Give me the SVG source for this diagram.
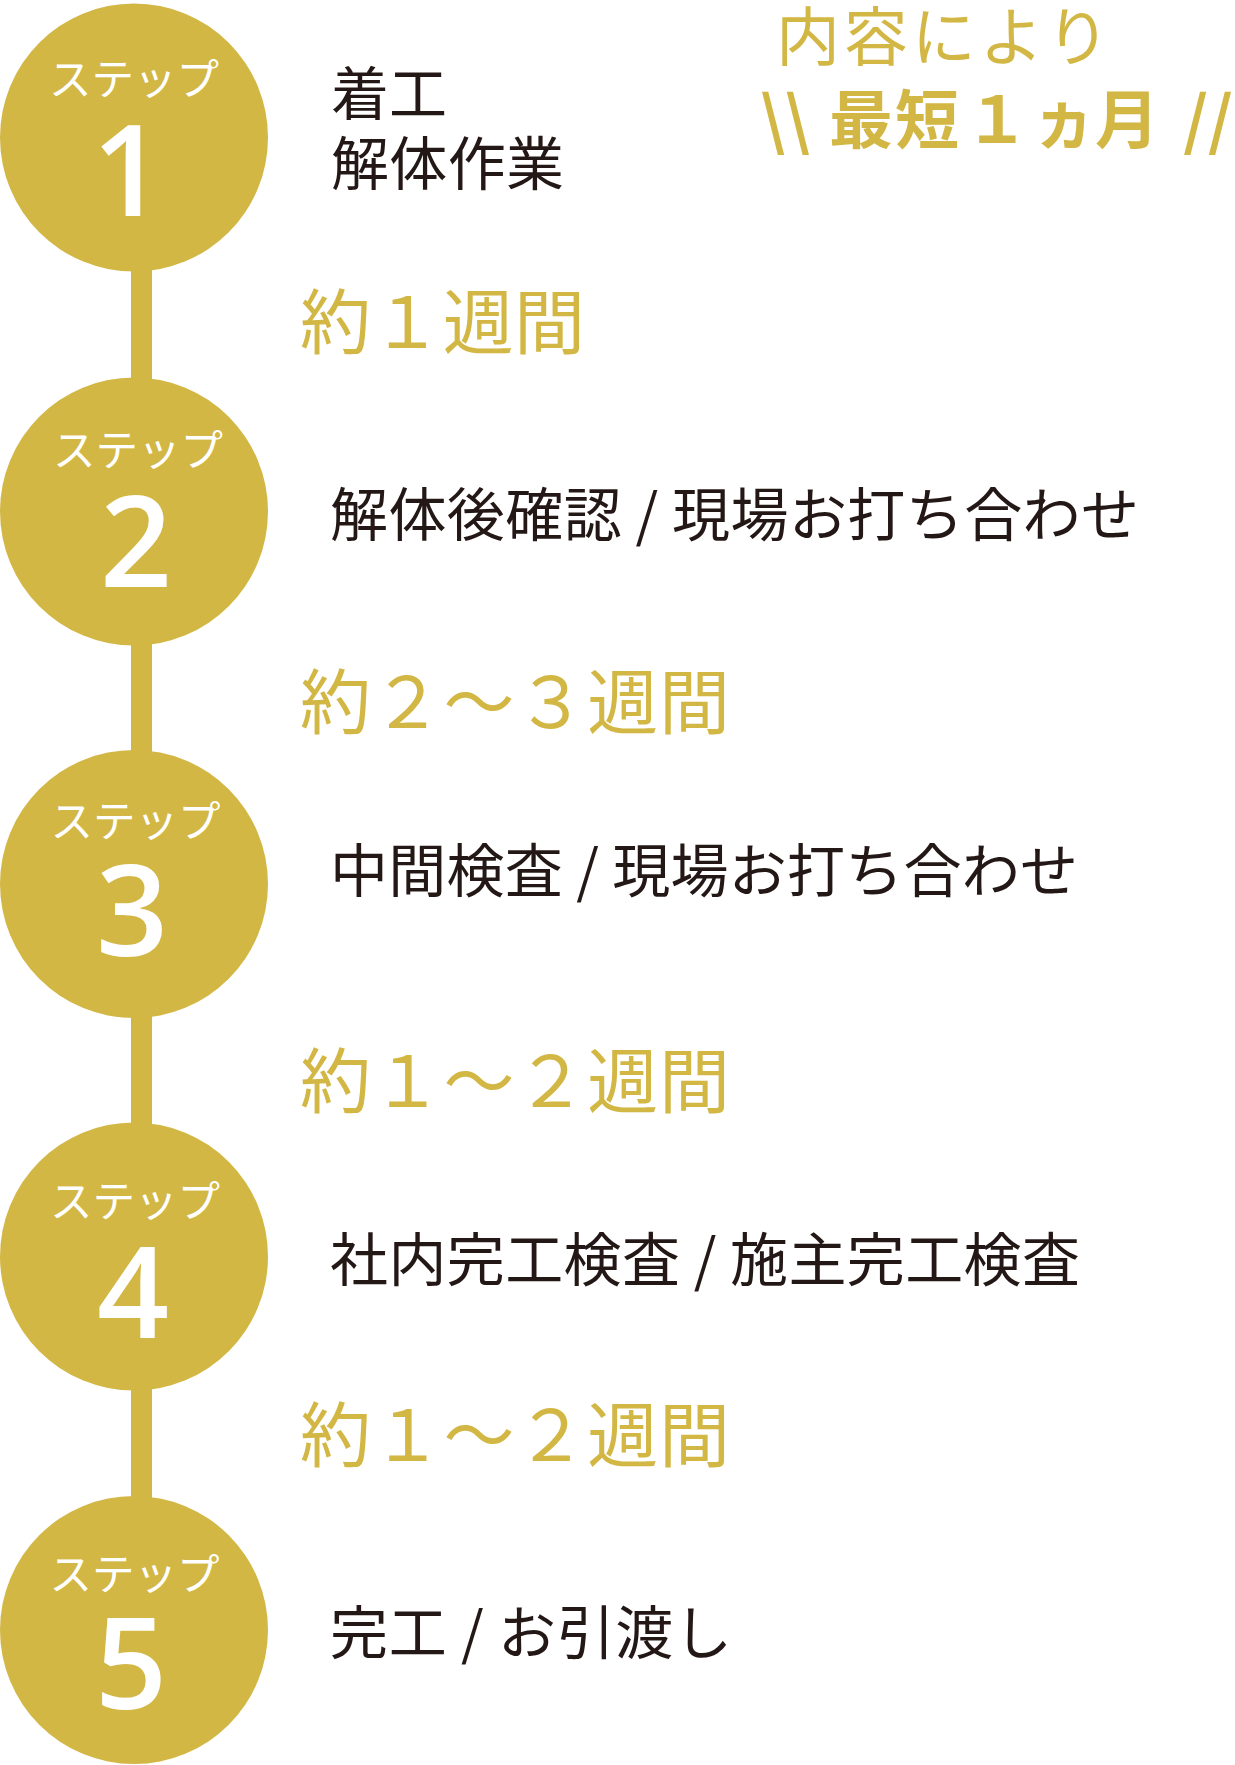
<svg xmlns="http://www.w3.org/2000/svg" width="1235" height="1765" viewBox="0 0 1235 1765">
<style>
.bg{fill:#ffffff}
.circ{fill:#D3B745}
.bar{fill:#D3B745}
.step{font-family:"Noto Sans CJK JP","Noto Sans",sans-serif;font-size:43px;fill:#ffffff;text-anchor:middle}
.num{font-family:"Open Sans","Noto Sans",sans-serif;font-size:126px;font-weight:600;fill:#ffffff;text-anchor:middle}
.desc{font-family:"Noto Sans CJK JP","Noto Sans",sans-serif;font-size:58px;fill:#231815}
.dur{font-family:"Noto Sans CJK JP","Noto Sans",sans-serif;font-size:71px;fill:#D3B745}
.note{font-family:"Noto Sans CJK JP","Noto Sans",sans-serif;font-size:64px;fill:#D3B745;text-anchor:middle}
.noteb{font-family:"Noto Sans CJK JP","Noto Sans",sans-serif;font-size:64px;font-weight:700;fill:#D3B745;text-anchor:middle}
</style>
<rect class="bg" x="0" y="0" width="1235" height="1765"/>
<g id="connectors">
<rect class="bar" x="131" y="250" width="21" height="280"/>
<rect class="bar" x="131" y="620" width="21" height="280"/>
<rect class="bar" x="131" y="990" width="21" height="280"/>
<rect class="bar" x="131" y="1365" width="21" height="280"/>
</g>
<g id="step1">
<circle class="circ" cx="134" cy="137.5" r="134"/>
<text class="step" x="134" y="95" textLength="170" lengthAdjust="spacingAndGlyphs">ステップ</text>
<text class="num" x="128" y="216">1</text>
<text class="desc" x="331" y="114.5" textLength="116">着工</text>
<text class="desc" x="331" y="184.5" textLength="233">解体作業</text>
</g>
<g id="step2">
<circle class="circ" cx="134" cy="511.5" r="134"/>
<text class="step" x="138" y="466" textLength="170" lengthAdjust="spacingAndGlyphs">ステップ</text>
<text class="num" x="136" y="587">2</text>
<text class="desc" x="330" y="536" textLength="809">解体後確認 / 現場お打ち合わせ</text>
</g>
<g id="step3">
<circle class="circ" cx="134" cy="884" r="134"/>
<text class="step" x="135.5" y="837" textLength="170" lengthAdjust="spacingAndGlyphs">ステップ</text>
<text class="num" x="132" y="956">3</text>
<text class="desc" x="330" y="892" textLength="748">中間検査 / 現場お打ち合わせ</text>
</g>
<g id="step4">
<circle class="circ" cx="134" cy="1256.5" r="134"/>
<text class="step" x="135" y="1217" textLength="170" lengthAdjust="spacingAndGlyphs">ステップ</text>
<text class="num" x="133" y="1338">4</text>
<text class="desc" x="330" y="1281" textLength="750">社内完工検査 / 施主完工検査</text>
</g>
<g id="step5">
<circle class="circ" cx="134" cy="1630" r="134"/>
<text class="step" x="134.5" y="1590" textLength="170" lengthAdjust="spacingAndGlyphs">ステップ</text>
<text class="num" x="131" y="1709">5</text>
<text class="desc" x="330" y="1654" textLength="402">完工 / お引渡し</text>
</g>
<g id="durations">
<text class="dur" x="300" y="348" textLength="285">約１週間</text>
<text class="dur" x="300" y="728" textLength="430">約２～３週間</text>
<text class="dur" x="300" y="1107" textLength="430">約１～２週間</text>
<text class="dur" x="300" y="1461" textLength="430">約１～２週間</text>
</g>
<g id="note">
<text class="note" x="943" y="60" textLength="334">内容により</text>
<text class="noteb" y="143"><tspan x="785">\\</tspan><tspan x="861">最</tspan><tspan x="927">短</tspan><tspan x="997">１</tspan><tspan x="1064.5">ヵ</tspan><tspan x="1127">月</tspan><tspan x="1208">//</tspan></text>
</g>
</svg>
